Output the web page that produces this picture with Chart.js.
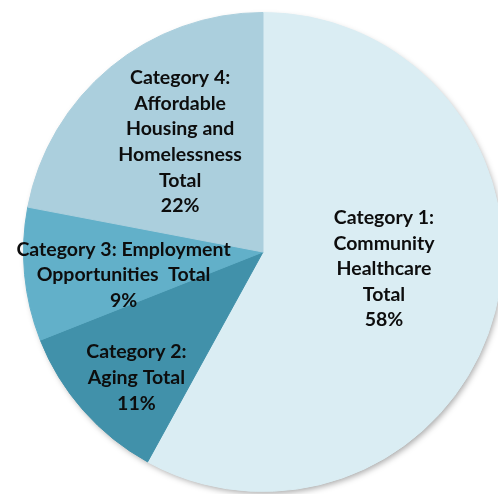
<!DOCTYPE html>
<html>
<head>
<meta charset="utf-8">
<script src="https://cdn.jsdelivr.net/npm/chart.js@4"></script>
<style>
  html, body { margin: 0; padding: 0; background: #fff; overflow: hidden; }
  #wrap { width: 498px; height: 494px; overflow: hidden; }
</style>
</head>
<body>
<div id="wrap"><canvas id="pieChart" width="510" height="494"></canvas></div>
<script>
// slices, clockwise from 12 o'clock
const labels = [
  ['Category 1:', 'Community', 'Healthcare', 'Total'],
  ['Category 2:', 'Aging Total'],
  ['Category 3: Employment', 'Opportunities  Total'],
  ['Category 4:', 'Affordable', 'Housing and', 'Homelessness', 'Total'],
];
const values = [58, 11, 9, 22];
const colors = ['#daedf3', '#4191aa', '#62b0c9', '#abcfdd'];
// where each label sits: fraction of radius, and angle (deg) relative to slice middle
const labelRadius = [0.51, 0.745, 0.59, 0.575];
const labelTurn = [-6.4, -3.4, -3.9, 2.6];

const shadowPlugin = {
  id: 'pieShadow',
  beforeDatasetsDraw(chart) {
    const arc = chart.getDatasetMeta(0).data[0];
    if (!arc) return;
    const c = chart.ctx;
    c.save();
    c.shadowColor = 'rgba(0,0,0,0.35)';
    c.shadowBlur = 6;
    c.shadowOffsetX = 2;
    c.shadowOffsetY = 3;
    c.fillStyle = '#daedf3';
    c.beginPath();
    c.arc(arc.x, arc.y, arc.outerRadius - 1, 0, Math.PI * 2);
    c.fill();
    c.restore();
  },
};

const labelPlugin = {
  id: 'sliceLabels',
  afterDatasetsDraw(chart) {
    const c = chart.ctx;
    const total = values.reduce((a, b) => a + b, 0);
    c.save();
    c.font = 'bold 19.5px Lato, "Open Sans", sans-serif';
    c.fillStyle = '#0d0d0d';
    c.textAlign = 'center';
    c.textBaseline = 'middle';
    chart.getDatasetMeta(0).data.forEach((arc, i) => {
      const mid = (arc.startAngle + arc.endAngle) / 2 + (labelTurn[i] * Math.PI) / 180;
      const r = arc.outerRadius * labelRadius[i];
      const x = arc.x + Math.cos(mid) * r;
      const y = arc.y + Math.sin(mid) * r;
      const lines = labels[i].concat([Math.round((values[i] / total) * 100) + '%']);
      const lh = 25.6;
      lines.forEach((t, k) => {
        c.fillText(t, x, y + (k - (lines.length - 1) / 2) * lh);
      });
    });
    c.restore();
  },
};

const ctx = document.getElementById('pieChart').getContext('2d');
window.pieChart = new Chart(ctx, {
  type: 'pie',
  data: {
    labels: labels.map((l) => l.join(' ')),
    datasets: [
      {
        data: values,
        backgroundColor: colors,
        borderColor: colors,
        borderWidth: 1,
      },
    ],
  },
  options: {
    responsive: false,
    animation: false,
    layout: { padding: { left: 23, right: 7, top: 12, bottom: 2 } },
    plugins: { legend: { display: false }, tooltip: { enabled: false } },
  },
  plugins: [shadowPlugin, labelPlugin],
});
</script>
</body>
</html>
